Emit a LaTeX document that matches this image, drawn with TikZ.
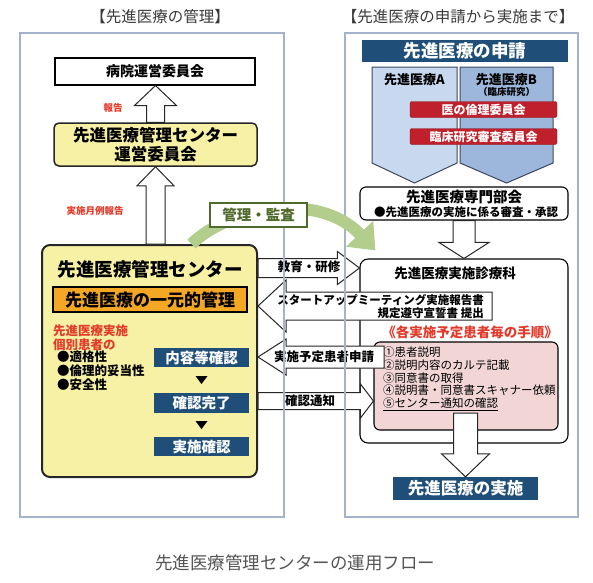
\documentclass[tikz,border=0pt]{standalone}
\usepackage{fontspec}
\setmainfont{Noto Sans CJK JP}
\usetikzlibrary{calc,arrows.meta}
\definecolor{frameblue}{HTML}{A3B3C9}
\definecolor{navy}{HTML}{1F4E79}
\definecolor{cream}{HTML}{F7F1A5}
\definecolor{amber}{HTML}{F3A724}
\definecolor{wine}{HTML}{C0202B}
\definecolor{memo}{HTML}{E33B2B}
\definecolor{blush}{HTML}{F2D6D6}
\definecolor{paleblue}{HTML}{C8D8EE}
\definecolor{midblue}{HTML}{9CB6DC}
\definecolor{slate}{HTML}{3D4660}
\definecolor{leaf}{HTML}{4F6A2B}
\definecolor{sprout}{HTML}{B3CD8D}
\definecolor{titlegray}{HTML}{3A3A3A}
\definecolor{capgray}{HTML}{555555}
\newcommand{\fsz}[2]{\fontsize{#1pt}{#2pt}\selectfont}
% hollow block arrow: tail, tip, shaft half width, head half width, head length
\newcommand{\fatarrow}[5]{%
  \draw[fatarr] ($(#1)!#3!90:(#2)$) -- ($(#2)!#5!(#1)!#3!-90:(#1)$)
    -- ($(#2)!#5!(#1)!#4!-90:(#1)$) -- (#2)
    -- ($(#2)!#5!(#1)!#4!90:(#1)$) -- ($(#2)!#5!(#1)!#3!90:(#1)$)
    -- ($(#1)!#3!-90:(#2)$) -- cycle;}
\begin{document}
\begin{tikzpicture}[x=1pt,y=-1pt,
  font=\fsz{12}{14},
  ttl/.style={text=titlegray,font=\fsz{15.5}{18}},
  panel/.style={draw=frameblue,line width=1.2pt},
  plain/.style={draw=black,line width=1.1pt,fill=white,inner sep=0pt},
  creambox/.style={draw=black!85,fill=cream,rounded corners=5pt,inner sep=0pt},
  navybox/.style={fill=navy,text=white,font=\bfseries\fsz{14.5}{16},inner sep=0pt},
  redbox/.style={fill=wine,draw=wine!70!black,rounded corners=2pt,text=white,font=\bfseries\fsz{12}{14},minimum width=147pt,minimum height=16pt,inner sep=0pt},
  rednote/.style={text=memo,font=\bfseries\fsz{9.5}{11}},
  fatarr/.style={draw=black!85,fill=white,line width=1pt,line join=miter},
  arrtxt/.style={font=\bfseries\fsz{12.5}{14},inner sep=0pt},
  pent/.style={draw=slate,line width=1pt},
  audit/.style={draw=sprout,line width=12pt,-{Triangle[length=23pt,width=36pt]}}
]
\useasboundingbox (0,0) rectangle (593,582);
% --- titles ---------------------------------------------------------------
\node[ttl] (ltitle) at (160,17) {【先進医療の管理】};
\node[ttl] (rtitle) at (458,17) {【先進医療の申請から実施まで】};
% --- left: management -----------------------------------------------------
\node[plain,minimum width=200pt,minimum height=27pt,font=\bfseries\fsz{14}{16}] (hosp) at (155,71.5) {病院運営委員会};
\node[creambox,line width=1.5pt,minimum width=203pt,minimum height=43pt,align=center,font=\bfseries\fsz{16.5}{18.5}] (opc) at (155.5,144.5) {先進医療管理センター\\運営委員会};
\node[creambox,line width=2pt,rounded corners=8pt,minimum width=215pt,minimum height=232pt] (ctr) at (149.5,361) {};
\node[font=\bfseries\fsz{18.5}{20}] (ctr-t) at (150,269) {先進医療管理センター};
\node[draw=black,line width=1.5pt,fill=amber,minimum width=194pt,minimum height=25pt,inner sep=0pt,font=\bfseries\fsz{17}{19}] (uni) at (150,299.5) {先進医療の一元的管理};
\node[anchor=north west,text=memo,font=\bfseries\fsz{12.5}{13.5},align=left,inner sep=0pt] (ind) at (53,325) {先進医療実施\\個別患者の};
\node[anchor=north west,font=\bfseries\fsz{12.5}{13.7},align=left,inner sep=0pt] (crit) at (57,351) {●適格性\\●倫理的妥当性\\●安全性};
\node[navybox,minimum width=95pt,minimum height=19pt] (chk1) at (201.5,357.5) {内容等確認};
\node[navybox,minimum width=95pt,minimum height=20pt] (chk2) at (201.5,403) {確認完了};
\node[navybox,minimum width=95pt,minimum height=19pt] (chk3) at (201.5,446.5) {実施確認};
\foreach \a/\b in {chk1/chk2,chk2/chk3}
  \fill ($(\a.south)!0.5!(\b.north)+(-6,-4)$) -- ++(12,0) -- ++(-6,8) -- cycle;
% --- right: application ---------------------------------------------------
\node[navybox,minimum width=206pt,minimum height=22pt,font=\bfseries\fsz{17.5}{19}] (apply) at (465,51) {先進医療の申請};
\draw[pent,fill=paleblue] (372,67) -- (457,67) -- (457,163) -- (414.5,183) -- (372,163) -- cycle;
\draw[pent,fill=midblue] (460,67) -- (553,67) -- (553,163) -- (506.5,183) -- (460,163) -- cycle;
\node[font=\bfseries\fsz{13}{14}] (kindA) at (414.5,80) {先進医療A};
\node[font=\bfseries\fsz{13}{14}] (kindB) at (506.5,80) {先進医療B};
\node[font=\bfseries\fsz{9.5}{11}] (kindB-s) at (506.5,92) {（臨床研究）};
\node[redbox] (ethic) at (483.5,109.5) {医の倫理委員会};
\node[redbox] (crb) at (483.5,136.5) {臨床研究審査委員会};
\node[plain,rounded corners=6pt,minimum width=208pt,minimum height=33pt] (expert) at (464,203.5) {};
\node[font=\bfseries\fsz{14.5}{16}] (expert-t) at (464,197) {先進医療専門部会};
\node[font=\bfseries\fsz{11.5}{13}] (expert-s) at (466,212) {●先進医療の実施に係る審査・承認};
\node[plain,rounded corners=8pt,minimum width=208pt,minimum height=184pt] (proc) at (464,351) {};
\node[font=\bfseries\fsz{13.5}{15}] (proc-t) at (455,273) {先進医療実施診療科};
\node[text=memo,font=\bfseries\fsz{13.5}{15}] (steps-t) at (470,332) {《各実施予定患者毎の手順》};
\node[draw=black,line width=1.1pt,fill=blush,rounded corners=6pt,minimum width=184pt,minimum height=88pt,inner sep=0pt] (steps) at (466,386) {};
\node[anchor=north west,font=\fsz{11.5}{12.6},align=left,inner sep=0pt] (steps-l) at (383,347) {①患者説明\\②説明内容のカルテ記載\\③同意書の取得\\④説明書・同意書スキャナー依頼\\\underline{⑤センター通知の確認}};
\node[navybox,minimum width=145pt,minimum height=23pt,font=\bfseries\fsz{16.5}{18}] (impl) at (465.5,488.5) {先進医療の実施};
% --- block arrows ---------------------------------------------------------
\coordinate (rep-a) at (opc.north);
\coordinate (rep-b) at (opc.north |- hosp.south);
\coordinate (mon-a) at (opc.south |- ctr.north);
\coordinate (mon-b) at (opc.south);
\coordinate (edu-a) at (ctr.east |- 0,268);
\coordinate (edu-b) at (proc.west |- 0,268);
\coordinate (su-a) at (492,306);
\coordinate (su-b) at (ctr.east |- 0,306);
\coordinate (rq-a) at (384,357);
\coordinate (rq-b) at (ctr.east |- 0,357);
\coordinate (nt-a) at (ctr.east |- 0,401);
\coordinate (nt-b) at (steps.west |- 0,401);
\coordinate (ex-a) at (expert.south);
\coordinate (ex-b) at (expert.south |- proc.north);
\coordinate (im-a) at (impl.north |- 0,413);
\coordinate (im-b) at (impl.north);
\fatarrow{rep-a}{rep-b}{9pt}{21pt}{20pt}
\fatarrow{mon-a}{mon-b}{9.5pt}{18.5pt}{19pt}
\fatarrow{edu-a}{edu-b}{9.5pt}{16.5pt}{22pt}
\fatarrow{su-a}{su-b}{14pt}{26pt}{28pt}
\fatarrow{rq-a}{rq-b}{11pt}{18pt}{28pt}
\fatarrow{nt-a}{nt-b}{8.5pt}{17pt}{13pt}
\fatarrow{ex-a}{ex-b}{11pt}{25pt}{16pt}
\fatarrow{im-a}{im-b}{12pt}{24pt}{23pt}
\node[rednote] (rep-l) at (113,108) {報告};
\node[rednote] (mon-l) at (95,211) {実施月例報告};
\node[arrtxt] (edu-l) at (309,267) {教育・研修};
\node[font=\bfseries\fsz{11.5}{13},align=right,anchor=east,inner sep=0pt] (su-l) at (484,306.5) {スタートアップミーティング実施報告書\\規定遵守宣誓書 提出};
\node[arrtxt] (rq-l) at (324,357) {実施予定患者申請};
\node[arrtxt] (nt-l) at (310,401) {確認通知};
% --- panels ---------------------------------------------------------------
\draw[panel] (20,33) rectangle (284,517);
\draw[panel] (345,33) rectangle (578,517);
% --- audit arrow ----------------------------------------------------------
\draw[audit] ($(ctr.north)+(42,0)$) .. controls (228,208) and (318,190) .. ($(proc.north west)+(16,-8)$);
\node[draw=leaf,line width=1.6pt,fill=white,text=leaf,font=\bfseries\fsz{14.5}{16},minimum width=97pt,minimum height=24pt,inner sep=0pt] (audit-l) at (258.5,215) {管理・監査};
% --- caption --------------------------------------------------------------
\node[text=capgray,font=\fsz{17.5}{20}] (cap) at (295,563) {先進医療管理センターの運用フロー};
\end{tikzpicture}
\end{document}
